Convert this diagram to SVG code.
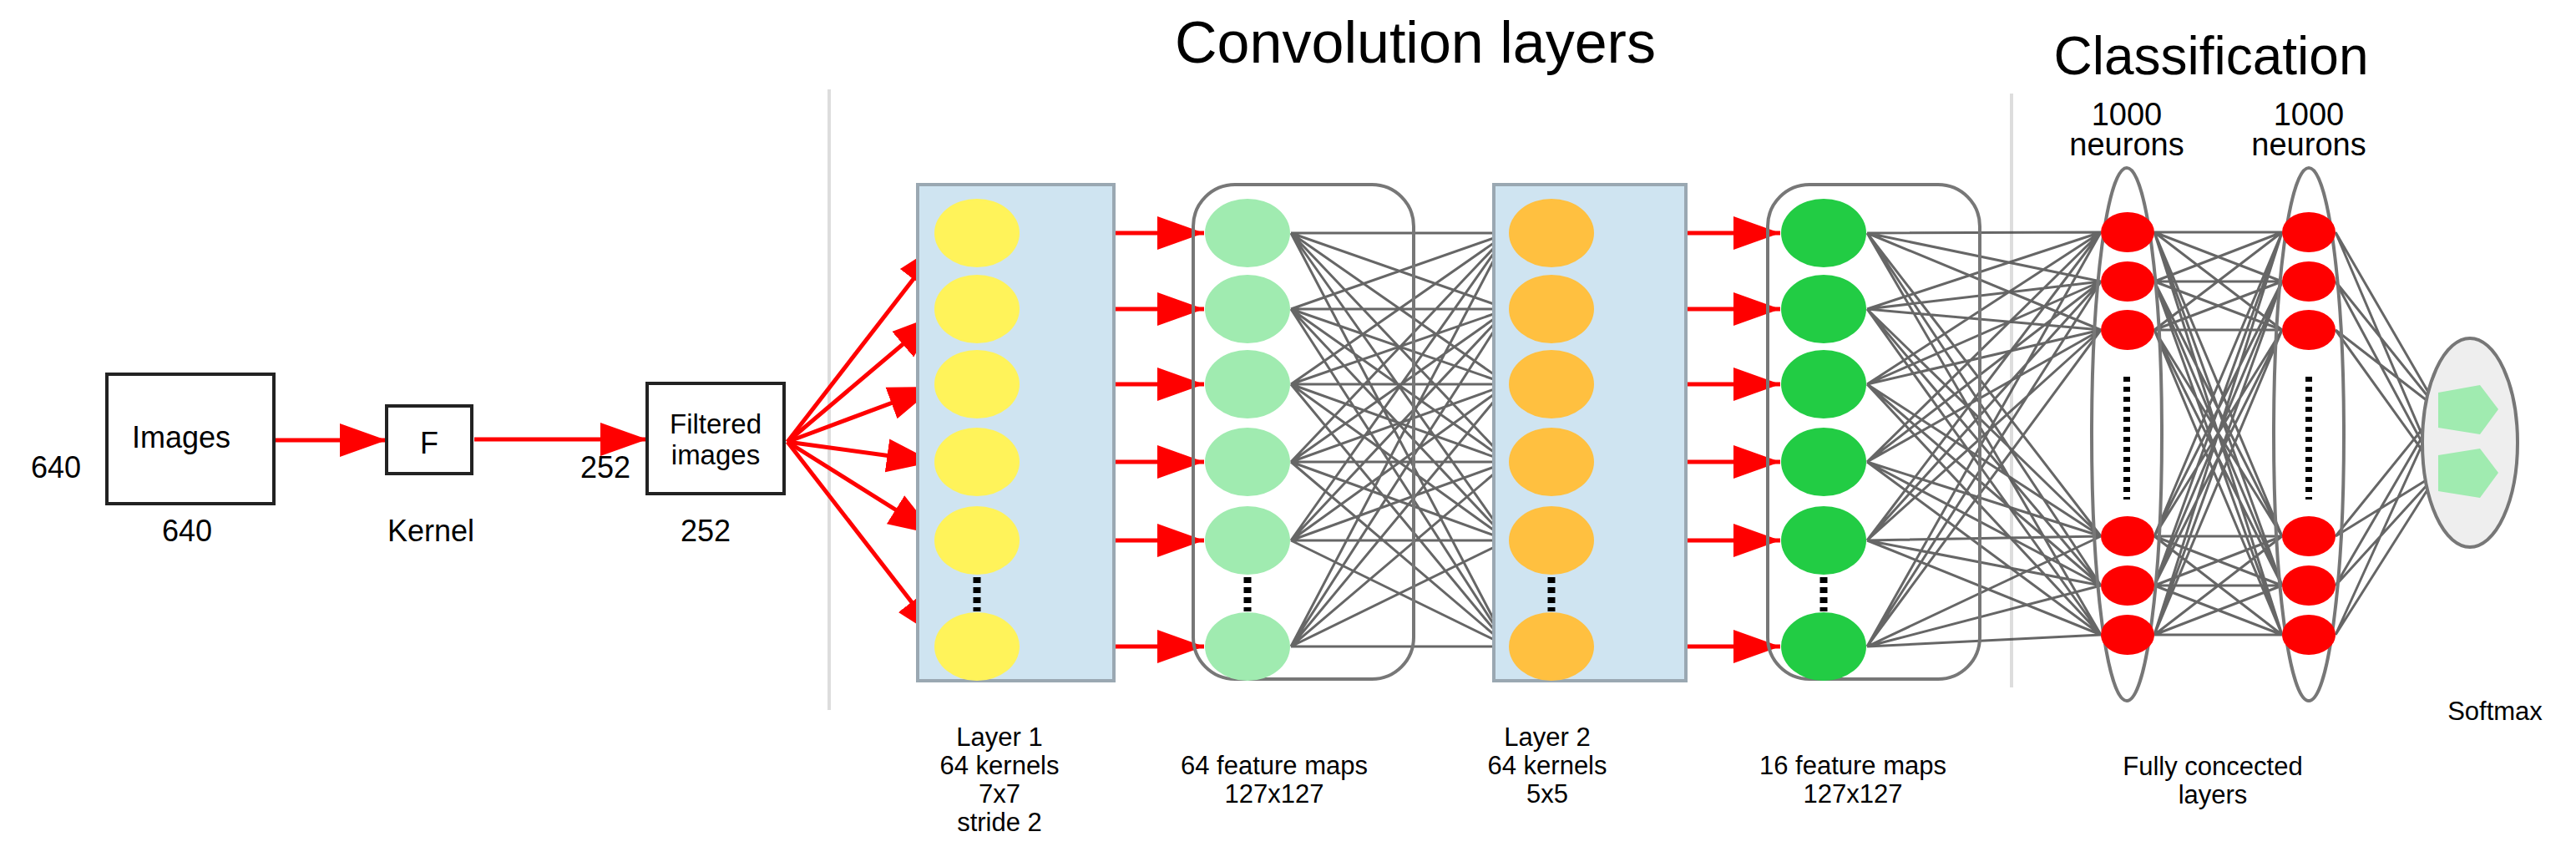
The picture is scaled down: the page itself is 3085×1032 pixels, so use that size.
<svg xmlns="http://www.w3.org/2000/svg" width="3085" height="1032" viewBox="0 0 3085 1032">
<style>
text{font-family:"Liberation Sans Narrow","Liberation Sans",Arial,sans-serif;fill:#000}
.t{font-size:36px}
.lb{font-size:31px;text-anchor:middle}
.box{fill:#fff;stroke:#222;stroke-width:4}
.ra{stroke:#f00;stroke-width:5;fill:none;marker-end:url(#ah)}
.cn{stroke:#333;stroke-width:3;opacity:0.75;fill:none}
.blue{fill:#cfe4f1;stroke:#9aa8b2;stroke-width:4}
.rr{fill:none;stroke:#777;stroke-width:4}
.vl{stroke:#ddd;stroke-width:4}
.dots{stroke:#000;stroke-width:9;stroke-dasharray:7 5}
</style>
<defs>
<marker id="ah" markerUnits="userSpaceOnUse" markerWidth="60" markerHeight="44" refX="56" refY="22" orient="auto"><path d="M0,2 L56,22 L0,42 Z" fill="#f00"/></marker>
</defs>
<rect width="3085" height="1032" fill="#fff"/>
<line class="vl" x1="993" y1="107" x2="993" y2="850"/>
<line class="vl" x1="2409" y1="112" x2="2409" y2="823"/>
<text x="1695" y="75" font-size="70" text-anchor="middle">Convolution layers</text>
<text x="2648" y="89" font-size="64" text-anchor="middle">Classification</text>
<g id="connectors">
<g class="cn">
<path d="M1546,279L1806,279M1546,279L1806,370M1546,279L1806,460M1546,279L1806,553M1546,279L1806,647M1546,279L1806,774M1546,370L1806,279M1546,370L1806,370M1546,370L1806,460M1546,370L1806,553M1546,370L1806,647M1546,370L1806,774M1546,460L1806,279M1546,460L1806,370M1546,460L1806,460M1546,460L1806,553M1546,460L1806,647M1546,460L1806,774M1546,553L1806,279M1546,553L1806,370M1546,553L1806,460M1546,553L1806,553M1546,553L1806,647M1546,553L1806,774M1546,647L1806,279M1546,647L1806,370M1546,647L1806,460M1546,647L1806,553M1546,647L1806,647M1546,647L1806,774M1546,774L1806,279M1546,774L1806,370M1546,774L1806,460M1546,774L1806,553M1546,774L1806,647M1546,774L1806,774"/>
<path d="M2236,279L2516,278M2236,279L2516,337M2236,279L2516,395M2236,279L2516,642M2236,279L2516,701M2236,279L2516,760M2236,370L2516,278M2236,370L2516,337M2236,370L2516,395M2236,370L2516,642M2236,370L2516,701M2236,370L2516,760M2236,460L2516,278M2236,460L2516,337M2236,460L2516,395M2236,460L2516,642M2236,460L2516,701M2236,460L2516,760M2236,553L2516,278M2236,553L2516,337M2236,553L2516,395M2236,553L2516,642M2236,553L2516,701M2236,553L2516,760M2236,647L2516,278M2236,647L2516,337M2236,647L2516,395M2236,647L2516,642M2236,647L2516,701M2236,647L2516,760M2236,774L2516,278M2236,774L2516,337M2236,774L2516,395M2236,774L2516,642M2236,774L2516,701M2236,774L2516,760"/>
<path d="M2580,278L2733,278M2580,278L2733,337M2580,278L2733,395M2580,278L2733,642M2580,278L2733,701M2580,278L2733,760M2580,337L2733,278M2580,337L2733,337M2580,337L2733,395M2580,337L2733,642M2580,337L2733,701M2580,337L2733,760M2580,395L2733,278M2580,395L2733,337M2580,395L2733,395M2580,395L2733,642M2580,395L2733,701M2580,395L2733,760M2580,642L2733,278M2580,642L2733,337M2580,642L2733,395M2580,642L2733,642M2580,642L2733,701M2580,642L2733,760M2580,701L2733,278M2580,701L2733,337M2580,701L2733,395M2580,701L2733,642M2580,701L2733,701M2580,701L2733,760M2580,760L2733,278M2580,760L2733,337M2580,760L2733,395M2580,760L2733,642M2580,760L2733,701M2580,760L2733,760"/>
<path d="M2797,278L2920,490M2797,337L2920,490M2797,395L2920,490M2797,642L2920,490M2797,701L2920,490M2797,760L2920,490M2797,278L2920,566M2797,337L2920,566M2797,395L2920,566M2797,642L2920,566M2797,701L2920,566M2797,760L2920,566"/>
</g>
<line class="ra" x1="330" y1="527" x2="463" y2="527"/>
<line class="ra" x1="568" y1="526" x2="775" y2="526"/>
<line class="ra" x1="943" y1="529" x2="1128" y2="290"/>
<line class="ra" x1="943" y1="529" x2="1124" y2="376"/>
<line class="ra" x1="943" y1="529" x2="1120" y2="463"/>
<line class="ra" x1="943" y1="529" x2="1118" y2="553"/>
<line class="ra" x1="943" y1="529" x2="1120" y2="640"/>
<line class="ra" x1="943" y1="529" x2="1126" y2="765"/>
<line class="ra" x1="1222" y1="279" x2="1442" y2="279"/>
<line class="ra" x1="1222" y1="370" x2="1442" y2="370"/>
<line class="ra" x1="1222" y1="460" x2="1442" y2="460"/>
<line class="ra" x1="1222" y1="553" x2="1442" y2="553"/>
<line class="ra" x1="1222" y1="647" x2="1442" y2="647"/>
<line class="ra" x1="1222" y1="774" x2="1442" y2="774"/>
<line class="ra" x1="1910" y1="279" x2="2132" y2="279"/>
<line class="ra" x1="1910" y1="370" x2="2132" y2="370"/>
<line class="ra" x1="1910" y1="460" x2="2132" y2="460"/>
<line class="ra" x1="1910" y1="553" x2="2132" y2="553"/>
<line class="ra" x1="1910" y1="647" x2="2132" y2="647"/>
<line class="ra" x1="1910" y1="774" x2="2132" y2="774"/>
</g>
<g id="images">
<rect class="box" x="128" y="448" width="200" height="155"/>
<text class="t" x="217" y="536" text-anchor="middle">Images</text>
<text class="t" x="67" y="572" text-anchor="middle">640</text>
<text class="t" x="224" y="648" text-anchor="middle">640</text>
</g>
<g id="kernel">
<rect class="box" x="463" y="486" width="102" height="81"/>
<text class="t" x="514" y="543" text-anchor="middle">F</text>
<text class="t" x="516" y="648" text-anchor="middle">Kernel</text>
</g>
<g id="filtered">
<rect class="box" x="775" y="459" width="164" height="132"/>
<text x="857" y="519" font-size="33" text-anchor="middle">Filtered</text>
<text x="857" y="556" font-size="33" text-anchor="middle">images</text>
<text class="t" x="725" y="572" text-anchor="middle">252</text>
<text class="t" x="845" y="648" text-anchor="middle">252</text>
</g>
<g id="layer1">
<rect class="blue" x="1099" y="221" width="235" height="594"/>
<g fill="#fff35a">
<ellipse cx="1170" cy="279" rx="51" ry="41"/><ellipse cx="1170" cy="370" rx="51" ry="41"/><ellipse cx="1170" cy="460" rx="51" ry="41"/><ellipse cx="1170" cy="553" rx="51" ry="41"/><ellipse cx="1170" cy="647" rx="51" ry="41"/><ellipse cx="1170" cy="774" rx="51" ry="41"/>
</g>
<line class="dots" x1="1170" y1="691" x2="1170" y2="732"/>
<text class="lb" x="1197" y="893">Layer 1</text>
<text class="lb" x="1197" y="927">64 kernels</text>
<text class="lb" x="1197" y="961">7x7</text>
<text class="lb" x="1197" y="995">stride 2</text>
</g>
<g id="fmaps1">
<rect class="rr" x="1429" y="221" width="264" height="592" rx="50"/>
<g fill="#a0ebb0">
<ellipse cx="1494" cy="279" rx="51" ry="41"/><ellipse cx="1494" cy="370" rx="51" ry="41"/><ellipse cx="1494" cy="460" rx="51" ry="41"/><ellipse cx="1494" cy="553" rx="51" ry="41"/><ellipse cx="1494" cy="647" rx="51" ry="41"/><ellipse cx="1494" cy="774" rx="51" ry="41"/>
</g>
<line class="dots" x1="1494" y1="691" x2="1494" y2="732"/>
<text class="lb" x="1526" y="927">64 feature maps</text>
<text class="lb" x="1526" y="961">127x127</text>
</g>
<g id="layer2">
<rect class="blue" x="1789" y="221" width="230" height="594"/>
<g fill="#ffc040">
<ellipse cx="1858" cy="279" rx="51" ry="41"/><ellipse cx="1858" cy="370" rx="51" ry="41"/><ellipse cx="1858" cy="460" rx="51" ry="41"/><ellipse cx="1858" cy="553" rx="51" ry="41"/><ellipse cx="1858" cy="647" rx="51" ry="41"/><ellipse cx="1858" cy="774" rx="51" ry="41"/>
</g>
<line class="dots" x1="1858" y1="691" x2="1858" y2="732"/>
<text class="lb" x="1853" y="893">Layer 2</text>
<text class="lb" x="1853" y="927">64 kernels</text>
<text class="lb" x="1853" y="961">5x5</text>
</g>
<g id="fmaps2">
<rect class="rr" x="2117" y="221" width="254" height="592" rx="50"/>
<g fill="#22cc44">
<ellipse cx="2184" cy="279" rx="51" ry="41"/><ellipse cx="2184" cy="370" rx="51" ry="41"/><ellipse cx="2184" cy="460" rx="51" ry="41"/><ellipse cx="2184" cy="553" rx="51" ry="41"/><ellipse cx="2184" cy="647" rx="51" ry="41"/><ellipse cx="2184" cy="774" rx="51" ry="41"/>
</g>
<line class="dots" x1="2184" y1="691" x2="2184" y2="732"/>
<text class="lb" x="2219" y="927">16 feature maps</text>
<text class="lb" x="2219" y="961">127x127</text>
</g>
<g id="fc1">
<ellipse cx="2547" cy="520" rx="42" ry="319" fill="none" stroke="#777" stroke-width="4"/>
<g fill="#f00">
<ellipse cx="2548" cy="278" rx="32" ry="24"/><ellipse cx="2548" cy="337" rx="32" ry="24"/><ellipse cx="2548" cy="395" rx="32" ry="24"/><ellipse cx="2548" cy="642" rx="32" ry="24"/><ellipse cx="2548" cy="701" rx="32" ry="24"/><ellipse cx="2548" cy="760" rx="32" ry="24"/>
</g>
<line x1="2547" y1="451" x2="2547" y2="598" stroke="#000" stroke-width="8" stroke-dasharray="6 6"/>
<text x="2547" y="150" font-size="38" text-anchor="middle">1000</text>
<text x="2547" y="186" font-size="38" text-anchor="middle">neurons</text>
</g>
<g id="fc2">
<ellipse cx="2765" cy="520" rx="42" ry="319" fill="none" stroke="#777" stroke-width="4"/>
<g fill="#f00">
<ellipse cx="2765" cy="278" rx="32" ry="24"/><ellipse cx="2765" cy="337" rx="32" ry="24"/><ellipse cx="2765" cy="395" rx="32" ry="24"/><ellipse cx="2765" cy="642" rx="32" ry="24"/><ellipse cx="2765" cy="701" rx="32" ry="24"/><ellipse cx="2765" cy="760" rx="32" ry="24"/>
</g>
<line x1="2765" y1="451" x2="2765" y2="598" stroke="#000" stroke-width="8" stroke-dasharray="6 6"/>
<text x="2765" y="150" font-size="38" text-anchor="middle">1000</text>
<text x="2765" y="186" font-size="38" text-anchor="middle">neurons</text>
<text class="lb" x="2650" y="928">Fully concected</text>
<text class="lb" x="2650" y="962">layers</text>
</g>
<g id="softmax">
<ellipse cx="2958" cy="530" rx="57" ry="125" fill="#eeeeee" stroke="#777" stroke-width="4"/>
<polygon points="2920,470 2970,461 2992,490 2970,520 2920,512" fill="#a0ebb0"/>
<polygon points="2920,545 2970,537 2992,566 2970,596 2920,588" fill="#a0ebb0"/>
<text class="lb" x="2988" y="862">Softmax</text>
</g>
</svg>
